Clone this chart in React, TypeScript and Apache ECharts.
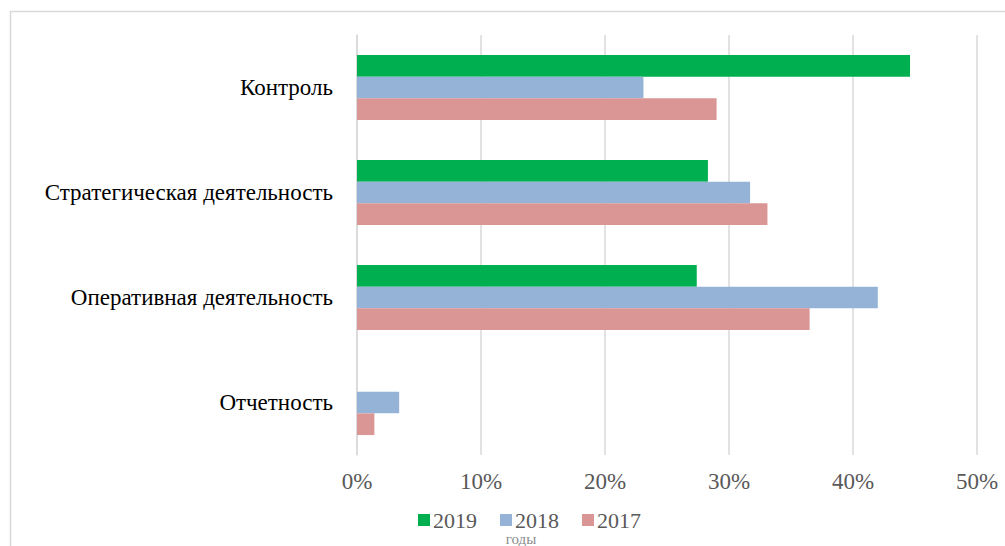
import React, { useEffect, useRef } from "react";
import * as echarts from "echarts";

const categories = ["Отчетность", "Оперативная деятельность", "Стратегическая деятельность", "Контроль"];
const values2019 = [0, 27.4, 28.3, 44.6];
const values2018 = [3.4, 42.0, 31.7, 23.1];
const values2017 = [1.4, 36.5, 33.1, 29.0];
const xTicks = [0, 10, 20, 30, 40, 50];
const legendNames = ["2019", "2018", "2017"];
const axisName = "годы";

const FONT = "Liberation Serif";

export default function App() {
  const ref = useRef<HTMLDivElement>(null);
  useEffect(() => {
    if (!ref.current) return;
    const chart = echarts.init(ref.current, undefined, { renderer: "svg" });
    chart.setOption({
      animation: false,
      backgroundColor: "#ffffff",
      grid: { left: 357, right: 28, top: 35, bottom: 91 },
      legend: {
        data: legendNames,
        left: 413,
        top: 504,
        icon: "rect",
        itemWidth: 12,
        itemHeight: 12,
        itemGap: 23,
        textStyle: { fontFamily: FONT, fontSize: 22, lineHeight: 18, color: "#595959", padding: [0, 0, 0, -2] },
      },
      xAxis: {
        type: "value",
        min: xTicks[0],
        max: xTicks[xTicks.length - 1],
        interval: 10,
        axisLine: { show: false },
        axisTick: { show: false },
        axisLabel: {
          formatter: (v: number) => v + "%",
          fontFamily: FONT,
          fontSize: 23,
          color: "#595959",
          margin: 15,
        },
        splitLine: { show: true, lineStyle: { color: "#d9d9d9", width: 1.5 } },
      },
      yAxis: {
        type: "category",
        data: categories,
        axisLine: { show: true, lineStyle: { color: "#d9d9d9", width: 1.5 } },
        axisTick: { show: false },
        axisLabel: { fontFamily: FONT, fontSize: 23, color: "#000000", margin: 24 },
      },
      series: [
        {
          name: "2019",
          type: "bar",
          data: values2019,
          itemStyle: { color: "#00B050" },
          barGap: "0%",
          barCategoryGap: "38%",
        },
        {
          name: "2018",
          type: "bar",
          data: values2018,
          itemStyle: { color: "#95B3D7" },
          barGap: "0%",
          barCategoryGap: "38%",
        },
        {
          name: "2017",
          type: "bar",
          data: values2017,
          itemStyle: { color: "#DA9694" },
          barGap: "0%",
          barCategoryGap: "38%",
        },
      ],
      graphic: [
        {
          type: "rect",
          shape: { x: 10.5, y: 11.5, width: 1100, height: 600 },
          style: { fill: "none", stroke: "#d9d9d9", lineWidth: 1.5 },
          silent: true,
        },
        {
          type: "text",
          x: 521,
          y: 546,
          style: {
            text: axisName,
            fontFamily: FONT,
            fontSize: 15,
            fill: "#8c8c8c",
            align: "center",
            verticalAlign: "bottom",
          },
        },
      ],
    });
    return () => chart.dispose();
  }, []);
  return (
    <div
      ref={ref}
      style={{ position: "fixed", left: 0, top: 0, width: 1005, height: 546 }}
    />
  );
}
